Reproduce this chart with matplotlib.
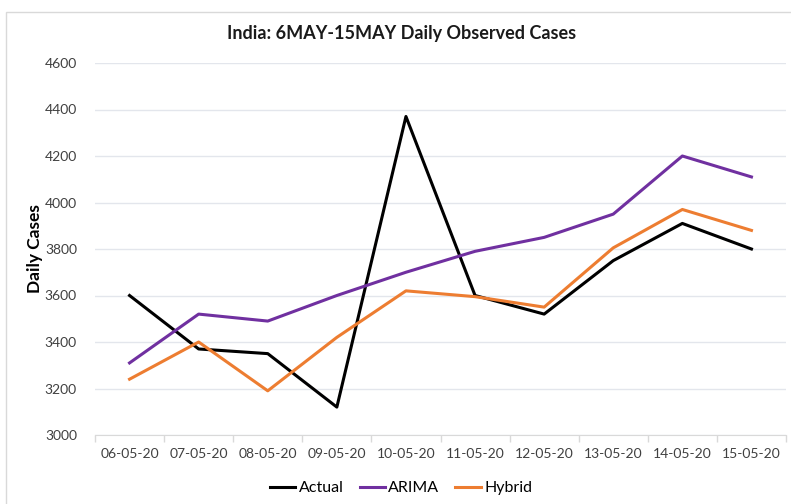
import matplotlib
matplotlib.use("Agg")
import matplotlib.pyplot as plt
from matplotlib.patches import Rectangle

dates = ["06-05-20", "07-05-20", "08-05-20", "09-05-20", "10-05-20",
         "11-05-20", "12-05-20", "13-05-20", "14-05-20", "15-05-20"]
actual = [3600, 3370, 3350, 3120, 4370, 3600, 3520, 3750, 3910, 3800]
arima = [3310, 3520, 3490, 3600, 3700, 3790, 3850, 3950, 4200, 4110]
hybrid = [3240, 3400, 3190, 3420, 3620, 3595, 3550, 3805, 3970, 3880]
yticks = [3000, 3200, 3400, 3600, 3800, 4000, 4200, 4400, 4600]

plt.rcParams['font.family'] = ['Lato', 'DejaVu Sans']

W, H = 791, 504
fig = plt.figure(figsize=(W / 100, H / 100), dpi=100)
fig.patches.append(Rectangle((6 / W, -0.1), 2, 1 - 12 / H + 0.1, transform=fig.transFigure,
                             fill=False, edgecolor='#D9D9D9', linewidth=1))

left, right, top, bottom = 95, 786, 63, 435
ax = fig.add_axes([left / W, 1 - bottom / H, (right - left) / W, (bottom - top) / H])

x = list(range(len(dates)))
ax.plot(x, actual, color='black', lw=2.2, label='Actual')
ax.plot(x, arima, color='#7030A0', lw=2.2, label='ARIMA')
ax.plot(x, hybrid, color='#ED7D31', lw=2.2, label='Hybrid')

ax.set_xlim(-0.5, len(dates) - 0.5)
ax.set_ylim(3000, 4600)
ax.set_yticks(yticks)
ax.set_xticks(x)
ax.set_xticklabels(dates)
ax.set_xticks([i - 0.5 for i in range(len(dates) + 1)], minor=True)
ax.tick_params(axis='x', which='major', length=0, pad=9, labelsize=10, labelcolor='#404040')
ax.tick_params(axis='x', which='minor', length=5, color='#D9D9D9', width=1)
ax.tick_params(axis='y', length=0, labelsize=10, labelcolor='#404040')
ax.yaxis.set_tick_params(pad=13)

ax.grid(axis='y', color='#E3E6EC', lw=1)
ax.set_axisbelow(True)
for s in ['top', 'right', 'left']:
    ax.spines[s].set_visible(False)
ax.spines['bottom'].set_color('#D9D9D9')

ax.set_ylabel('Daily Cases', fontsize=12.5, fontweight='bold', labelpad=1)
fig.text(402 / W, 1 - 33 / H, 'India: 6MAY-15MAY Daily Observed Cases', ha='center', va='center',
         fontsize=13, fontweight='bold', color='#1a1a1a')

fig.legend(loc='center', bbox_to_anchor=(401 / W, 1 - 488 / H), ncol=3, frameon=False,
           fontsize=11.5, handlelength=1.6, handletextpad=0.2, columnspacing=1.0)

fig.savefig('out.png', dpi=100)
